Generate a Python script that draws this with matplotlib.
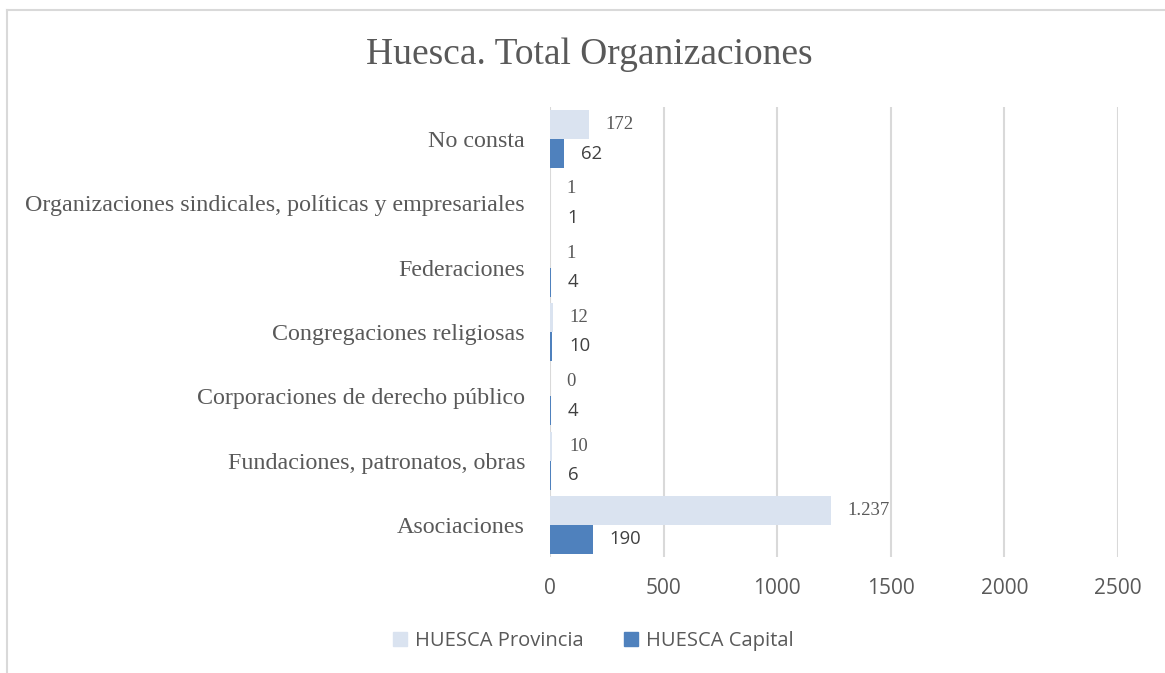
import matplotlib
matplotlib.use("Agg")
import matplotlib.pyplot as plt
from matplotlib.patches import Patch
from matplotlib.lines import Line2D

# datos (de abajo hacia arriba, como en Excel)
categorias = ["Asociaciones",
              "Fundaciones, patronatos, obras",
              "Corporaciones de derecho público",
              "Congregaciones religiosas",
              "Federaciones",
              "Organizaciones sindicales, políticas y empresariales",
              "No consta"]
provincia = [1237, 10, 0, 12, 1, 1, 172]
capital = [190, 6, 4, 10, 4, 1, 62]
etiquetas_prov = ["1.237", "10", "0", "12", "1", "1", "172"]

c_prov = "#DAE3F0"
c_cap = "#4F81BD"
gris = "#595959"
serif = "Liberation Serif"
sans = "Open Sans"

W, H = 1165, 673
fig = plt.figure(figsize=(W / 100, H / 100), dpi=100)

# marco del grafico
fig.add_artist(Line2D([6.5 / W, 6.5 / W], [0, 1 - 10 / H], color="#D9D9D9", lw=1.5))
fig.add_artist(Line2D([6.5 / W, 1], [1 - 10 / H, 1 - 10 / H], color="#D9D9D9", lw=1.5))

ax = fig.add_axes([550 / W, (H - 557) / H, (1118 - 550) / W, (557 - 107) / H])

y = list(range(len(categorias)))
h = 0.45
ax.barh([v + h / 2 for v in y], provincia, height=h, color=c_prov, label="HUESCA Provincia", zorder=2)
ax.barh([v - h / 2 for v in y], capital, height=h, color=c_cap, label="HUESCA Capital", zorder=2)

for i in y:
    ax.annotate(etiquetas_prov[i], (provincia[i], i + h / 2), xytext=(12, 0),
                textcoords="offset points", va="center", ha="left",
                fontsize=13.5, family=serif, color=gris)
    ax.annotate(str(capital[i]), (capital[i], i - h / 2), xytext=(12, 0),
                textcoords="offset points", va="center", ha="left",
                fontsize=13.3, family=sans, color="#404040")

ax.set_xlim(0, 2500)
ax.set_ylim(-0.5, 6.5)
ax.set_xticks([0, 500, 1000, 1500, 2000, 2500])
ax.set_yticks(y)
ax.set_yticklabels(categorias, family=serif, fontsize=17.3, color=gris)
for t in ax.get_xticklabels():
    t.set_family(sans)
    t.set_fontsize(15)
    t.set_color(gris)
ax.tick_params(axis="x", length=0, pad=15)
ax.tick_params(axis="y", length=0, pad=18)
ax.grid(axis="x", color="#D9D9D9", lw=1.5, zorder=0)
for s in ax.spines.values():
    s.set_visible(False)

fig.text(589 / W, 1 - 55 / H, "Huesca. Total Organizaciones", ha="center", va="center",
         family=serif, fontsize=27, color=gris)

manejadores = [Patch(color=c_prov), Patch(color=c_cap)]
fig.legend(manejadores, ["HUESCA Provincia", "HUESCA Capital"], loc="center",
           bbox_to_anchor=(593 / W, 1 - 641 / H), ncol=2, frameon=False,
           handlelength=0.7, handleheight=0.7, handletextpad=0.4, columnspacing=2.0,
           prop={"family": sans, "size": 14.5}, labelcolor=gris)

fig.savefig("out.png", dpi=100, facecolor="white")
